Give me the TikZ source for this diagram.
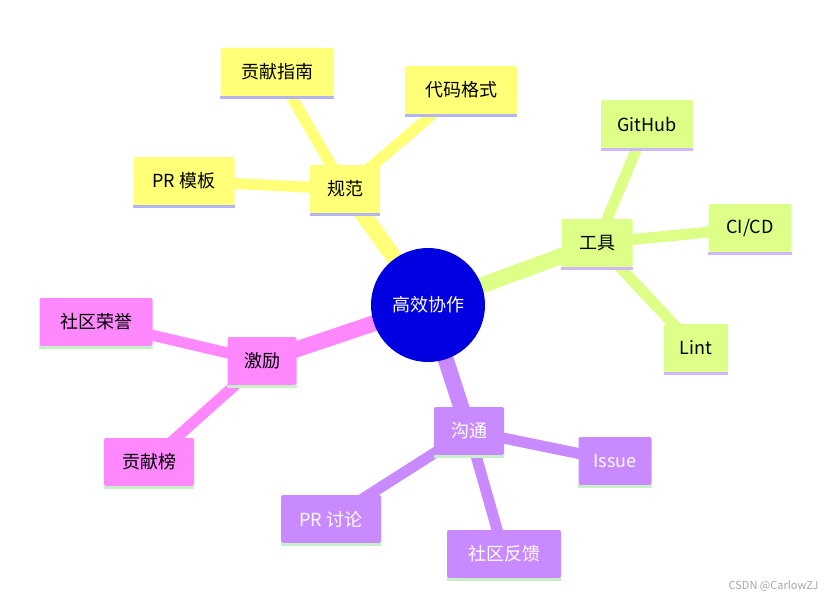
\documentclass[tikz,border=0pt]{standalone}
\usepackage{fontspec}
\setmainfont{Noto Sans CJK SC}
\begin{document}
\begin{tikzpicture}[x=1pt,y=-1pt,
  box/.style={rounded corners=2pt,minimum height=48pt,inner sep=0pt,font=\fontsize{18}{20}\selectfont},
  e1/.style={line width=16pt},
  e2/.style={line width=11pt}]
\useasboundingbox (0,0) rectangle (837,602);
\definecolor{cy}{HTML}{FFFF78}
\definecolor{cg}{HTML}{DDFF88}
\definecolor{cp}{HTML}{FF88FF}
\definecolor{cv}{HTML}{C98AFF}
\definecolor{ly}{HTML}{B4B4F0}
\definecolor{lg}{HTML}{D0B8F8}
\definecolor{lp}{HTML}{C8F0C8}
\coordinate (R) at (428,305);
\coordinate (a) at (345,189); \coordinate (a1) at (277,72); \coordinate (a2) at (461,90); \coordinate (a3) at (184,181);
\coordinate (b) at (597,243); \coordinate (b1) at (647,124); \coordinate (b2) at (750,228); \coordinate (b3) at (696,348);
\coordinate (c) at (262,361); \coordinate (c1) at (96,322); \coordinate (c2) at (149,462);
\coordinate (d) at (469,431); \coordinate (d1) at (615,461); \coordinate (d2) at (331,519); \coordinate (d3) at (504,554);
\draw[e1,cy] (R)--(a); \draw[e2,cy] (a)--(a1); \draw[e2,cy] (a)--(a2); \draw[e2,cy] (a)--(a3);
\draw[e1,cg] (R)--(b); \draw[e2,cg] (b)--(b1); \draw[e2,cg] (b)--(b2); \draw[e2,cg] (b)--(b3);
\draw[e1,cp] (R)--(c); \draw[e2,cp] (c)--(c1); \draw[e2,cp] (c)--(c2);
\draw[e1,cv] (R)--(d); \draw[e2,cv] (d)--(d1); \draw[e2,cv] (d)--(d2); \draw[e2,cv] (d)--(d3);
\newcommand{\mmbox}[5]{%
  \node[box,fill=#2,minimum width=#3pt] (n#1) at (#1) {#5};
  \fill[#4] (n#1.south west) rectangle ([yshift=-3pt]n#1.south east);}
\mmbox{a}{cy}{70}{ly}{规范}
\mmbox{a1}{cy}{113}{ly}{贡献指南}
\mmbox{a2}{cy}{112}{ly}{代码格式}
\mmbox{a3}{cy}{101}{ly}{PR 模板}
\mmbox{b}{cg}{71}{lg}{工具}
\mmbox{b1}{cg}{92}{lg}{GitHub}
\mmbox{b2}{cg}{83}{lg}{CI/CD}
\mmbox{b3}{cg}{64}{lg}{Lint}
\mmbox{c}{cp}{69}{lp}{激励}
\mmbox{c1}{cp}{113}{lp}{社区荣誉}
\mmbox{c2}{cp}{90}{lp}{贡献榜}
\mmbox{d}{cv}{70}{lp}{\color{white}沟通}
\mmbox{d1}{cv}{73}{lp}{\color{white}Issue}
\mmbox{d2}{cv}{100}{lp}{\color{white}PR 讨论}
\mmbox{d3}{cv}{114}{lp}{\color{white}社区反馈}
\node[circle,fill={rgb,255:red,0;green,0;blue,225},minimum size=114pt,inner sep=0pt,text=white,font=\fontsize{18}{20}\selectfont] (root) at (R) {高效协作};
\node[text=gray!70,font=\fontsize{11}{12}\selectfont,anchor=east] (wm) at (822,586) {CSDN @CarlowZJ};
\end{tikzpicture}
\end{document}
